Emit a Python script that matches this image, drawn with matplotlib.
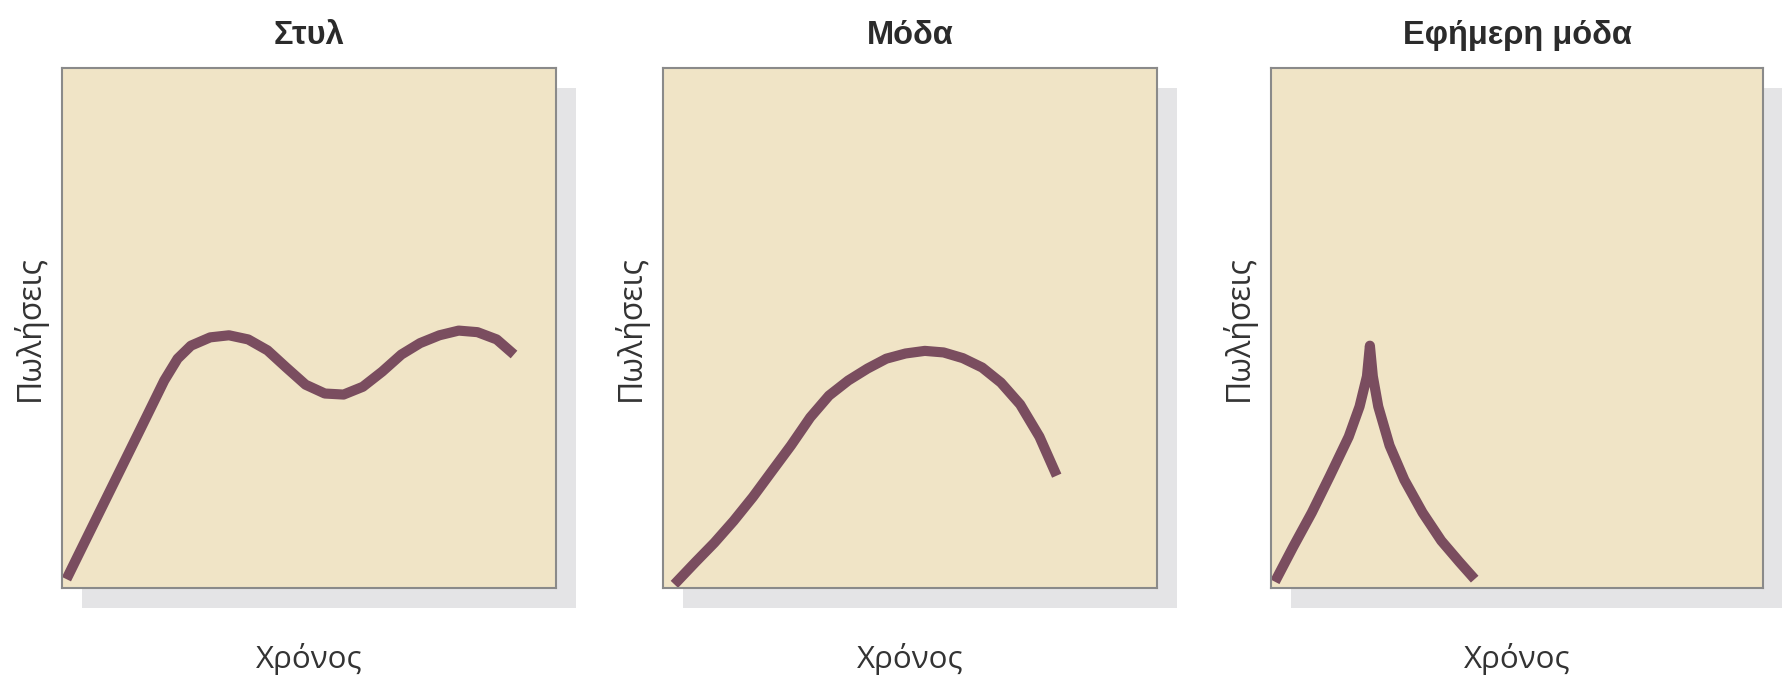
import matplotlib
matplotlib.use("Agg")
import matplotlib.pyplot as plt
from matplotlib.patches import Rectangle

# titles and axis labels
titles = ["Στυλ", "Μόδα", "Εφήμερη μόδα"]
xlabel = "Χρόνος"
ylabel = "Πωλήσεις"

# curves (fraction of box width / height)
style_x = [0.009, 0.052, 0.106, 0.160, 0.207, 0.234, 0.261, 0.300, 0.338, 0.377,
           0.416, 0.454, 0.493, 0.532, 0.570, 0.609, 0.648, 0.687, 0.725, 0.764,
           0.803, 0.841, 0.880, 0.915]
style_y = [0.017, 0.100, 0.204, 0.308, 0.399, 0.441, 0.466, 0.482, 0.486, 0.478,
           0.457, 0.424, 0.391, 0.374, 0.372, 0.387, 0.416, 0.449, 0.471, 0.486,
           0.495, 0.492, 0.478, 0.449]

fashion_x = [0.023, 0.066, 0.104, 0.143, 0.182, 0.220, 0.259, 0.298, 0.336, 0.375,
             0.414, 0.452, 0.491, 0.530, 0.568, 0.607, 0.646, 0.684, 0.723, 0.762,
             0.797]
fashion_y = [0.007, 0.050, 0.087, 0.129, 0.175, 0.224, 0.274, 0.328, 0.370, 0.399,
             0.422, 0.441, 0.451, 0.456, 0.453, 0.442, 0.424, 0.395, 0.353, 0.291,
             0.216]

fad_x = [0.008, 0.045, 0.083, 0.120, 0.158, 0.180, 0.195, 0.201, 0.207, 0.218,
         0.241, 0.271, 0.308, 0.346, 0.383, 0.414]
fad_y = [0.012, 0.079, 0.145, 0.216, 0.291, 0.349, 0.407, 0.466, 0.407, 0.349,
         0.274, 0.208, 0.145, 0.091, 0.050, 0.017]

curves = [(style_x, style_y), (fashion_x, fashion_y), (fad_x, fad_y)]

W, H = 1783, 677
fig = plt.figure(figsize=(W / 100, H / 100), dpi=100)

lefts = [62, 663, 1271]
widths = [494, 494, 492]
top, bottom = 68, 588
shadow = 20

for i in range(3):
    l = lefts[i]
    w = widths[i]
    # grey drop shadow behind each box
    fig.patches.append(Rectangle(((l + shadow) / W, (H - bottom - shadow) / H),
                                 w / W, (bottom - top) / H,
                                 transform=fig.transFigure, facecolor="#e4e4e6",
                                 edgecolor="none", zorder=0))
    ax = fig.add_axes([l / W, (H - bottom) / H, w / W, (bottom - top) / H])
    ax.set_facecolor("#f0e4c6")
    ax.set_zorder(1)
    for s in ax.spines.values():
        s.set_color("#8a8a8a")
        s.set_linewidth(1.5)
    x, y = curves[i]
    ax.plot(x, y, color="#7a4d5f", lw=7.3, solid_capstyle="butt",
            solid_joinstyle="round")
    ax.set_xlim(0, 1)
    ax.set_ylim(0, 1)
    ax.set_xticks([])
    ax.set_yticks([])
    ax.set_title(titles[i], fontsize=23.5, fontweight="bold", family="Liberation Sans",
                 color="#2b2b2b", pad=17)
    ax.text(0.5, -0.154, xlabel, transform=ax.transAxes, ha="center", va="baseline",
            fontsize=22.5, family="Open Sans", color="#333333")
    ax.text(-33 / w, 0.5, ylabel, transform=ax.transAxes, ha="center", va="center",
            rotation=90, fontsize=23, family="Open Sans", color="#333333")

fig.savefig("out.png", dpi=100, facecolor="white")
